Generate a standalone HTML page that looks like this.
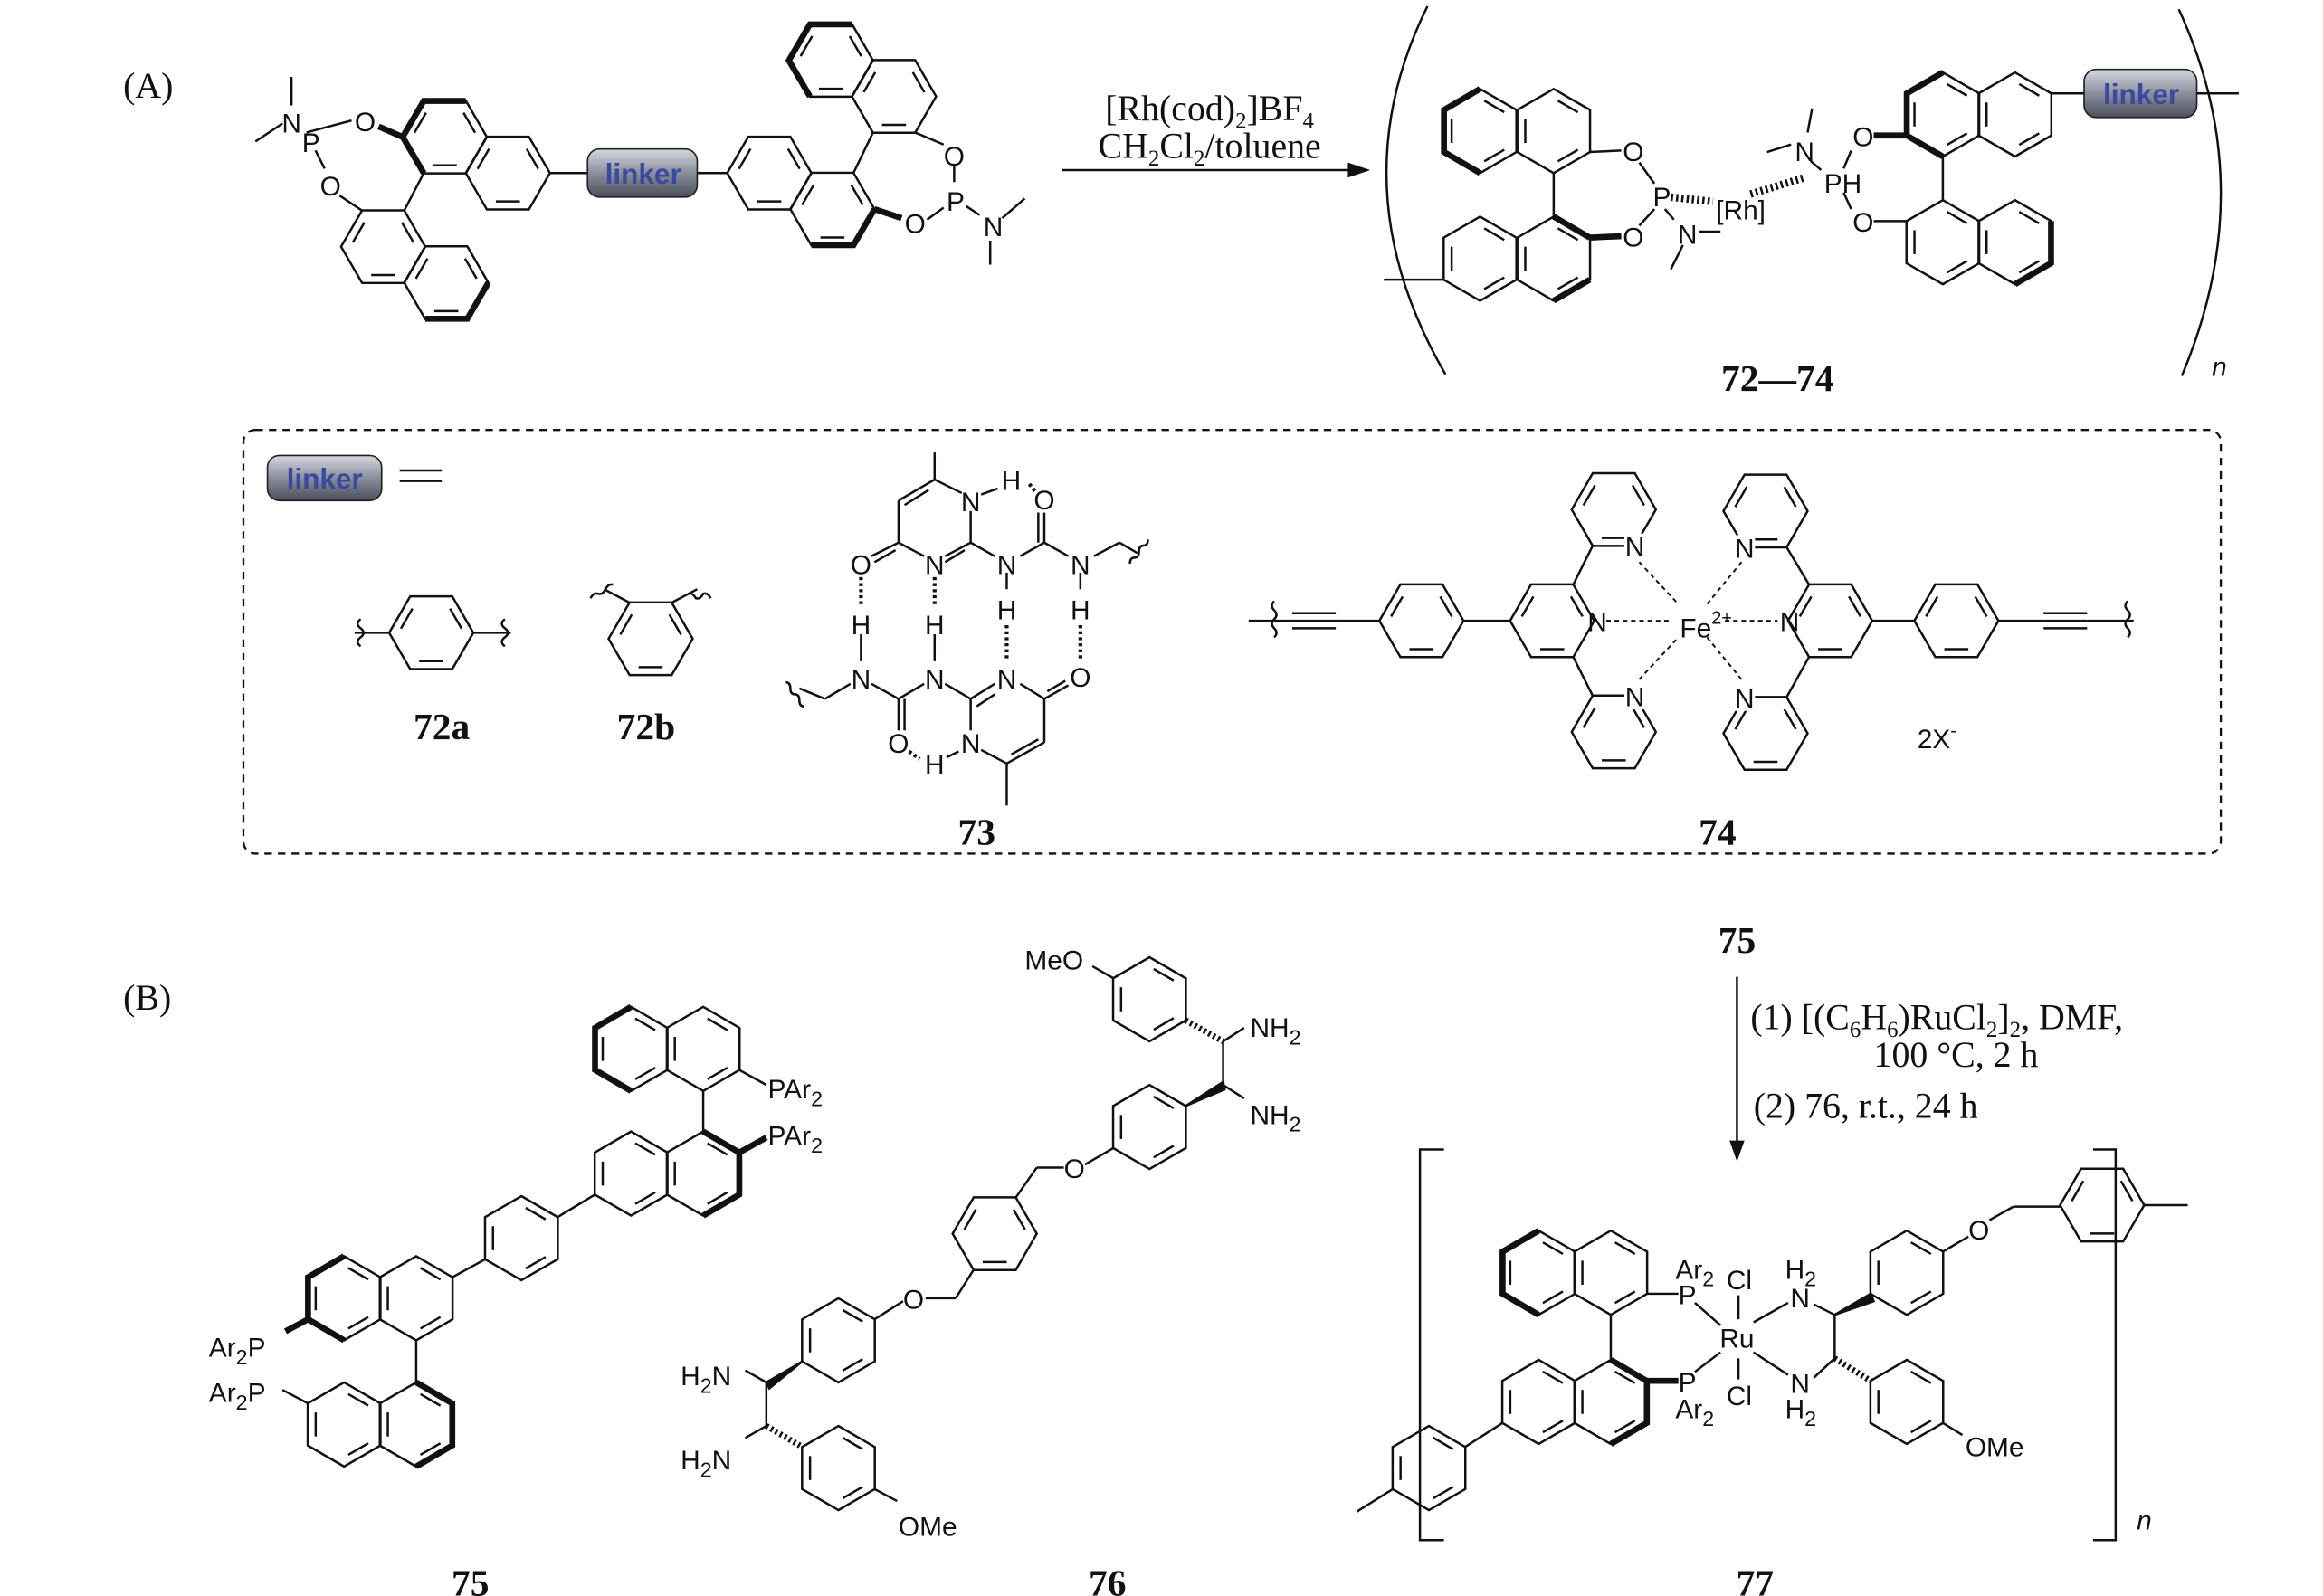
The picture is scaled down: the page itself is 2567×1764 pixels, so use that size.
<!DOCTYPE html>
<html><head><meta charset="utf-8"><style>
html,body{margin:0;padding:0;background:#fff}
svg{display:block}
text{font-family:"Liberation Sans",sans-serif;font-size:18px;fill:#111}
.s{font-family:"Liberation Serif",serif;font-size:24px}
.b{font-family:"Liberation Serif",serif;font-size:25px;font-weight:bold}
.l{font-family:"Liberation Sans",sans-serif;font-size:19px;font-weight:bold;fill:#3a4aa0}
.m{text-anchor:middle}
</style></head><body>
<svg width="2567" height="1764" viewBox="0 0 1546 1062" xmlns="http://www.w3.org/2000/svg">
<defs>
<symbol id="p" overflow="visible"><g fill="none" stroke="#111" stroke-width="1.5"><polygon points="0,-28 24.2,-14 24.2,14 0,28 -24.2,14 -24.2,-14"/><line x1="2.8" y1="-20.2" x2="16.1" y2="-12.5"/><line x1="16.1" y1="12.5" x2="2.8" y2="20.2"/><line x1="-18.9" y1="8" x2="-18.9" y2="-8"/></g></symbol>
<symbol id="f" overflow="visible"><g fill="none" stroke="#111" stroke-width="1.5"><polygon points="28,0 14,24.2 -14,24.2 -28,0 -14,-24.2 14,-24.2"/><line x1="-8" y1="18.9" x2="8" y2="18.9"/><line x1="-20.2" y1="-2.8" x2="-12.5" y2="-16.1"/><line x1="12.5" y1="-16.1" x2="20.2" y2="-2.8"/></g></symbol>
<linearGradient id="g" x1="0" y1="0" x2="0" y2="1"><stop offset="0" stop-color="#d4d7de"/><stop offset="0.5" stop-color="#8a8f9c"/><stop offset="1" stop-color="#4a4f5a"/></linearGradient>
</defs>
<g stroke="#111" stroke-width="1.5" fill="none">
<use href="#f" x="296" y="91"/><use href="#f" x="338" y="115"/>
<use href="#f" x="255" y="164"/><use href="#f" x="297" y="188"/>
<polyline points="282,115 268,91 282,67 310,67" stroke-width="4"/>
<polyline points="325,188 311,212 283,212" stroke-width="4"/>
<line x1="282" y1="115" x2="269" y2="140"/>
<line x1="268" y1="91" x2="252" y2="84" stroke-width="4"/>
<line x1="241" y1="140" x2="226" y2="130"/>
<line x1="366" y1="115" x2="392" y2="115"/>
<line x1="204" y1="88" x2="234" y2="80"/><line x1="210" y1="100" x2="216" y2="112"/>
<line x1="194" y1="70" x2="194" y2="51"/><line x1="188" y1="82" x2="170" y2="94"/>
<use href="#f" x="512" y="115"/><use href="#f" x="554" y="139"/>
<use href="#f" x="553" y="40"/><use href="#f" x="595" y="64"/>
<line x1="464" y1="115" x2="484" y2="115"/>
<line x1="581" y1="88" x2="568" y2="115"/>
<polyline points="539,64 525,40 539,16 567,16" stroke-width="4"/>
<polyline points="582,139 568,163 540,163" stroke-width="4"/>
<line x1="582" y1="139" x2="600" y2="145" stroke-width="4"/>
<line x1="609" y1="88" x2="628" y2="96"/>
<line x1="617" y1="146" x2="628" y2="138"/><line x1="635" y1="110" x2="635" y2="121"/>
<line x1="643" y1="137" x2="652" y2="143"/><line x1="667" y1="145" x2="682" y2="132"/><line x1="659" y1="160" x2="659" y2="176"/>
<line x1="707" y1="113" x2="905" y2="113"/>
<path d="M950,4 Q890,125 962,249"/><path d="M1450,6 Q1505,125 1452,250"/>
<use href="#p" x="985" y="87"/><use href="#p" x="1034" y="87"/>
<use href="#p" x="985" y="172"/><use href="#p" x="1034" y="172"/>
<polyline points="985,59 961,73 961,101 985,115" stroke-width="4"/>
<polyline points="1034,144 1058,158" stroke-width="4"/><polyline points="1058,186 1034,200" stroke-width="4"/>
<line x1="1034" y1="115" x2="1034" y2="144"/>
<line x1="921" y1="186" x2="961" y2="186"/>
<line x1="1058" y1="101" x2="1079" y2="100"/>
<line x1="1058" y1="158" x2="1079" y2="157" stroke-width="4"/>
<line x1="1091" y1="108" x2="1101" y2="122"/><line x1="1091" y1="150" x2="1101" y2="139"/>
<line x1="1112" y1="131" x2="1140" y2="134" stroke-dasharray="1.5 2" stroke-width="5"/>
<line x1="1165" y1="129" x2="1201" y2="118" stroke-dasharray="1.5 2" stroke-width="5"/>
<line x1="1108" y1="139" x2="1114" y2="146"/><line x1="1131" y1="154" x2="1145" y2="154"/><line x1="1120" y1="163" x2="1112" y2="179"/>
<line x1="1205" y1="107" x2="1212" y2="113"/><line x1="1192" y1="96" x2="1176" y2="101"/><line x1="1203" y1="88" x2="1206" y2="72"/>
<line x1="1227" y1="112" x2="1232" y2="100"/><line x1="1227" y1="128" x2="1232" y2="139"/>
<use href="#p" x="1293" y="76"/><use href="#p" x="1341" y="76"/>
<use href="#p" x="1293" y="161"/><use href="#p" x="1341" y="161"/>
<polyline points="1293,48 1269,62 1269,90 1293,104" stroke-width="4"/>
<polyline points="1365,147 1365,175 1341,189" stroke-width="4"/>
<line x1="1293" y1="104" x2="1293" y2="133"/>
<line x1="1269" y1="90" x2="1247" y2="90" stroke-width="4"/>
<line x1="1269" y1="147" x2="1247" y2="147"/>
<line x1="1365" y1="62" x2="1388" y2="62"/><line x1="1460" y1="62" x2="1490" y2="62"/>
<rect x="162" y="286" width="1316" height="282" rx="8" stroke-dasharray="5 4" stroke-width="1.4"/>
<line x1="266" y1="313" x2="294" y2="313"/><line x1="266" y1="320" x2="294" y2="320"/>
<use href="#f" x="287" y="421"/><line x1="236" y1="421" x2="259" y2="421"/><line x1="315" y1="421" x2="340" y2="421"/>
<path d="M240,412 q-4,3 0,6 q4,3 0,6 q-4,3 0,6"/><path d="M336,412 q-4,3 0,6 q4,3 0,6 q-4,3 0,6"/>
<use href="#f" x="433" y="425"/><line x1="419" y1="401" x2="402" y2="392"/><line x1="447" y1="401" x2="464" y2="392"/>
<path d="M393,398 q2,-4 5,-3 q3,1 5,-3 q2,-4 5,-3"/><path d="M458,395 q3,-1 5,3 q3,1 5,-3 q3,-1 5,3"/>
<line x1="622" y1="319" x2="622" y2="301"/>
<line x1="622" y1="319" x2="640" y2="328"/><line x1="622" y1="319" x2="598" y2="333"/><line x1="618" y1="326" x2="602" y2="336"/>
<line x1="598" y1="333" x2="598" y2="361"/><line x1="598" y1="361" x2="615" y2="370"/><line x1="598" y1="361" x2="580" y2="370"/><line x1="596" y1="366" x2="582" y2="374"/>
<line x1="646" y1="340" x2="646" y2="361"/><line x1="646" y1="361" x2="629" y2="370"/><line x1="642" y1="366" x2="629" y2="374"/>
<line x1="646" y1="361" x2="662" y2="370"/><line x1="653" y1="329" x2="664" y2="325"/>
<line x1="679" y1="370" x2="695" y2="361"/><line x1="695" y1="361" x2="711" y2="370"/><line x1="695" y1="361" x2="695" y2="341"/><line x1="691" y1="361" x2="691" y2="341"/>
<line x1="728" y1="370" x2="745" y2="361"/><line x1="745" y1="361" x2="757" y2="368"/>
<path d="M752,375 q0,-4 3,-4 q3,0 3,-4 q0,-4 3,-4 q3,0 3,-4"/>
<line x1="670" y1="381" x2="670" y2="392"/><line x1="719" y1="381" x2="719" y2="392"/>
<line x1="573" y1="422" x2="573" y2="440"/><line x1="622" y1="422" x2="622" y2="440"/>
<line x1="549" y1="465" x2="566" y2="455"/><line x1="532" y1="458" x2="549" y2="465"/>
<path d="M535,470 q-3,0 -3,-4 q0,-4 -3,-4 q-3,0 -3,-4 q0,-4 -3,-4"/>
<line x1="580" y1="455" x2="598" y2="465"/><line x1="598" y1="465" x2="615" y2="455"/><line x1="598" y1="465" x2="598" y2="486"/><line x1="602" y1="465" x2="602" y2="486"/>
<line x1="629" y1="455" x2="646" y2="465"/><line x1="646" y1="465" x2="662" y2="455"/><line x1="650" y1="470" x2="662" y2="462"/>
<line x1="646" y1="465" x2="646" y2="486"/><line x1="653" y1="499" x2="670" y2="508"/><line x1="670" y1="508" x2="695" y2="494"/><line x1="673" y1="502" x2="691" y2="492"/>
<line x1="695" y1="494" x2="695" y2="465"/><line x1="695" y1="465" x2="679" y2="455"/><line x1="695" y1="465" x2="711" y2="456"/><line x1="697" y1="460" x2="709" y2="453"/>
<line x1="670" y1="508" x2="670" y2="536"/><line x1="630" y1="504" x2="638" y2="500"/>
<g stroke-dasharray="2 2" stroke-width="2.5"><line x1="573" y1="384" x2="573" y2="402"/><line x1="622" y1="384" x2="622" y2="402"/><line x1="670" y1="416" x2="670" y2="438"/><line x1="719" y1="416" x2="719" y2="438"/><line x1="605" y1="500" x2="612" y2="505"/><line x1="685" y1="322" x2="690" y2="328"/></g>
<use href="#f" x="946" y="413"/><use href="#f" x="1033" y="413"/><use href="#f" x="1074" y="339"/><use href="#f" x="1074" y="487"/>
<use href="#f" x="1218" y="413"/><use href="#f" x="1302" y="413"/><use href="#f" x="1175" y="340"/><use href="#f" x="1175" y="488"/>
<line x1="831" y1="413" x2="860" y2="413"/><line x1="860" y1="408" x2="889" y2="408"/><line x1="860" y1="413" x2="889" y2="413"/><line x1="860" y1="418" x2="889" y2="418"/><line x1="889" y1="413" x2="918" y2="413"/>
<line x1="974" y1="413" x2="1005" y2="413"/><line x1="1047" y1="389" x2="1060" y2="363"/><line x1="1047" y1="437" x2="1060" y2="463"/>
<line x1="1204" y1="389" x2="1189" y2="364"/><line x1="1204" y1="437" x2="1189" y2="464"/><line x1="1246" y1="413" x2="1274" y2="413"/>
<line x1="1330" y1="413" x2="1360" y2="413"/><line x1="1360" y1="408" x2="1389" y2="408"/><line x1="1360" y1="413" x2="1389" y2="413"/><line x1="1360" y1="418" x2="1389" y2="418"/><line x1="1389" y1="413" x2="1420" y2="413"/>
<path d="M848,400 q-3,3 0,6 q3,3 0,6 q-3,3 0,6 q3,3 0,6"/><path d="M1416,400 q-3,3 0,6 q3,3 0,6 q-3,3 0,6 q3,3 0,6"/>
<g stroke-dasharray="3 2.5" stroke-width="1.2"><line x1="1069" y1="413" x2="1113" y2="413"/><line x1="1148" y1="413" x2="1183" y2="413"/><line x1="1091" y1="374" x2="1117" y2="402"/><line x1="1159" y1="374" x2="1136" y2="402"/><line x1="1091" y1="452" x2="1117" y2="424"/><line x1="1159" y1="452" x2="1136" y2="424"/></g>
<line x1="1156" y1="650" x2="1156" y2="765"/>
<use href="#p" x="420" y="698"/><use href="#p" x="468" y="698"/>
<use href="#p" x="420" y="781"/><use href="#p" x="468" y="781"/>
<polyline points="420,670 396,684 396,712 420,726" stroke-width="4"/>
<polyline points="468,753 492,767 492,795 468,809" stroke-width="4"/>
<line x1="468" y1="726" x2="468" y2="753"/>
<line x1="492" y1="712" x2="510" y2="722"/><line x1="492" y1="767" x2="510" y2="757" stroke-width="4"/>
<use href="#p" x="347" y="824"/>
<line x1="396" y1="795" x2="371" y2="810"/>
<use href="#p" x="229" y="864"/><use href="#p" x="277" y="864"/>
<line x1="323" y1="838" x2="301" y2="850"/>
<polyline points="205,878 205,850 229,836" stroke-width="4"/><polyline points="205,878 229,892" stroke-width="4"/>
<line x1="205" y1="878" x2="190" y2="886" stroke-width="4"/>
<use href="#p" x="229" y="948"/><use href="#p" x="277" y="948"/>
<line x1="277" y1="892" x2="277" y2="920"/>
<polyline points="277,920 301,934 301,962 277,976" stroke-width="4"/>
<line x1="205" y1="934" x2="188" y2="925"/>
<use href="#p" x="765" y="665"/>
<line x1="741" y1="651" x2="727" y2="643"/>
<line x1="814" y1="693" x2="814" y2="722"/><line x1="814" y1="693" x2="828" y2="684"/><line x1="814" y1="722" x2="828" y2="731"/>
<line x1="789" y1="679" x2="814" y2="693" stroke-dasharray="1.5 2" stroke-width="4"/>
<use href="#p" x="765" y="750"/>
<polygon points="789,736 814,720 815,725" fill="#111"/>
<line x1="741" y1="764" x2="722" y2="775"/><line x1="708" y1="777" x2="690" y2="777"/><line x1="690" y1="777" x2="676" y2="797"/>
<use href="#f" x="662" y="821"/>
<line x1="648" y1="845" x2="636" y2="864"/><line x1="636" y1="864" x2="616" y2="864"/>
<use href="#p" x="558" y="892"/>
<line x1="601" y1="866" x2="582" y2="878"/>
<polygon points="534,906 510,920 512,924" fill="#111"/>
<line x1="510" y1="920" x2="510" y2="949"/><line x1="510" y1="920" x2="496" y2="912"/><line x1="510" y1="949" x2="496" y2="957"/>
<use href="#p" x="558" y="977"/>
<line x1="510" y1="949" x2="534" y2="963" stroke-dasharray="1.5 2" stroke-width="4"/>
<line x1="582" y1="991" x2="597" y2="999"/>
<path d="M961,765 H945 V1025 H961"/><path d="M1393,765 H1408 V1025 H1393"/>
<use href="#p" x="1024" y="847"/><use href="#p" x="1072" y="847"/>
<use href="#p" x="1024" y="933"/><use href="#p" x="1072" y="933"/>
<polyline points="1024,819 1000,833 1000,861 1024,875" stroke-width="4"/>
<polyline points="1072,905 1096,919 1096,947 1072,961" stroke-width="4"/>
<line x1="1072" y1="875" x2="1072" y2="905"/>
<line x1="1096" y1="861" x2="1117" y2="861"/><line x1="1096" y1="919" x2="1117" y2="919" stroke-width="4"/>
<use href="#p" x="951" y="977"/>
<line x1="1000" y1="947" x2="975" y2="963"/><line x1="927" y1="991" x2="903" y2="1006"/>
<line x1="1128" y1="867" x2="1145" y2="882"/><line x1="1128" y1="913" x2="1145" y2="900"/>
<line x1="1157" y1="862" x2="1157" y2="878"/><line x1="1157" y1="904" x2="1157" y2="918"/>
<line x1="1167" y1="880" x2="1190" y2="867"/><line x1="1167" y1="900" x2="1190" y2="915"/>
<line x1="1207" y1="868" x2="1221" y2="875"/><line x1="1207" y1="917" x2="1221" y2="904"/><line x1="1221" y1="875" x2="1221" y2="904"/>
<polygon points="1221,875 1245,861 1247,866" fill="#111"/>
<line x1="1221" y1="904" x2="1245" y2="919" stroke-dasharray="1.5 2" stroke-width="4"/>
<use href="#p" x="1269" y="847"/><use href="#p" x="1269" y="933"/>
<line x1="1293" y1="833" x2="1310" y2="823"/><line x1="1324" y1="812" x2="1340" y2="803"/><line x1="1340" y1="803" x2="1371" y2="803"/>
<use href="#f" x="1399" y="802"/><line x1="1427" y1="802" x2="1456" y2="802"/>
<line x1="1293" y1="947" x2="1306" y2="955"/>
</g>
<!-- white masks behind pyridine N -->
<g fill="#fff"><rect x="1081" y="355" width="14" height="17"/><rect x="1154" y="356" width="14" height="17"/><rect x="1081" y="455" width="14" height="17"/><rect x="1154" y="456" width="14" height="17"/></g>
<polygon points="912,113 897,108 897,118" fill="#111"/>
<polygon points="1156,773 1151,759 1161,759" fill="#111"/>
<rect x="391" y="99" width="73" height="32" rx="8" fill="url(#g)" stroke="#222"/><text class="l m" x="428" y="122">linker</text>
<rect x="1387" y="46" width="75" height="32" rx="8" fill="url(#g)" stroke="#222"/><text class="l m" x="1425" y="69">linker</text>
<rect x="178" y="303" width="76" height="30" rx="8" fill="url(#g)" stroke="#222"/><text class="l m" x="216" y="325">linker</text>
<text class="s" x="82" y="65">(A)</text><text class="s" x="82" y="672">(B)</text>
<text class="m" x="194" y="88">N</text><text class="m" x="243" y="87">O</text><text class="m" x="207" y="101">P</text><text class="m" x="220" y="130">O</text>
<text class="m" x="609" y="155">O</text><text class="m" x="635" y="110">O</text><text class="m" x="636" y="140">P</text><text class="m" x="661" y="157">N</text>
<text class="s m" x="805" y="80">[Rh(cod)<tspan font-size="15" dy="5">2</tspan><tspan dy="-5">]BF</tspan><tspan font-size="15" dy="5">4</tspan></text>
<text class="s m" x="805" y="105">CH<tspan font-size="15" dy="5">2</tspan><tspan dy="-5">Cl</tspan><tspan font-size="15" dy="5">2</tspan><tspan dy="-5">/toluene</tspan></text>
<text class="m" x="1087" y="107">O</text><text class="m" x="1087" y="164">O</text><text class="m" x="1106" y="137">P</text><text class="m" x="1123" y="162">N</text>
<text x="1142" y="146">[Rh]</text><text class="m" x="1201" y="107">N</text><text x="1214" y="128">PH</text><text class="m" x="1240" y="97">O</text><text class="m" x="1240" y="154">O</text>
<text class="b m" x="1183" y="260">72—74</text>
<text x="1472" y="250" font-style="italic">n</text>
<text class="b m" x="294" y="492">72a</text><text class="b m" x="430" y="492">72b</text>
<text class="b m" x="650" y="562">73</text><text class="b m" x="1143" y="562">74</text>
<text class="m" x="646" y="340">N</text><text class="m" x="673" y="326">H</text><text class="m" x="695" y="339">O</text>
<text class="m" x="573" y="382">O</text><text class="m" x="622" y="382">N</text><text class="m" x="670" y="382">N</text><text class="m" x="719" y="382">N</text>
<text class="m" x="573" y="422">H</text><text class="m" x="622" y="422">H</text><text class="m" x="670" y="412">H</text><text class="m" x="719" y="412">H</text>
<text class="m" x="573" y="458">N</text><text class="m" x="622" y="458">N</text><text class="m" x="670" y="458">N</text><text class="m" x="719" y="457">O</text>
<text class="m" x="598" y="501">O</text><text class="m" x="622" y="515">H</text><text class="m" x="646" y="501">N</text>
<text class="m" x="1063" y="420">N</text><text class="m" x="1191" y="420">N</text><text x="1118" y="424">Fe<tspan font-size="12" dy="-9">2+</tspan></text>
<text class="m" x="1088" y="370">N</text><text class="m" x="1161" y="371">N</text><text class="m" x="1088" y="470">N</text><text class="m" x="1161" y="471">N</text>
<text x="1276" y="498">2X<tspan font-size="12" dy="-8">-</tspan></text>
<text class="b m" x="1156" y="634">75</text>
<text class="s" x="1165" y="685">(1) [(C<tspan font-size="15" dy="5">6</tspan><tspan dy="-5">H</tspan><tspan font-size="15" dy="5">6</tspan><tspan dy="-5">)RuCl</tspan><tspan font-size="15" dy="5">2</tspan><tspan dy="-5">]</tspan><tspan font-size="15" dy="5">2</tspan><tspan dy="-5">, DMF,</tspan></text>
<text class="s" x="1247" y="710">100 °C, 2 h</text>
<text class="s" x="1167" y="744">(2) 76, r.t., 24 h</text>
<text x="511" y="731">PAr<tspan font-size="14" dy="5">2</tspan></text><text x="511" y="762">PAr<tspan font-size="14" dy="5">2</tspan></text>
<text x="139" y="903">Ar<tspan font-size="14" dy="5">2</tspan><tspan dy="-5">P</tspan></text><text x="139" y="933">Ar<tspan font-size="14" dy="5">2</tspan><tspan dy="-5">P</tspan></text>
<text x="682" y="645">MeO</text><text x="832" y="690">NH<tspan font-size="14" dy="5">2</tspan></text><text x="832" y="748">NH<tspan font-size="14" dy="5">2</tspan></text>
<text class="m" x="715" y="784">O</text><text class="m" x="608" y="871">O</text>
<text x="453" y="922">H<tspan font-size="14" dy="5">2</tspan><tspan dy="-5">N</tspan></text><text x="453" y="978">H<tspan font-size="14" dy="5">2</tspan><tspan dy="-5">N</tspan></text>
<text x="598" y="1022">OMe</text>
<text class="b m" x="313" y="1062">75</text><text class="b m" x="737" y="1062">76</text><text class="b m" x="1168" y="1062">77</text>
<text x="1115" y="851">Ar<tspan font-size="14" dy="5">2</tspan></text><text class="m" x="1123" y="868">P</text><text x="1149" y="858">Cl</text>
<text class="m" x="1156" y="897">Ru</text><text class="m" x="1123" y="926">P</text><text x="1115" y="944">Ar<tspan font-size="14" dy="5">2</tspan></text><text x="1149" y="935">Cl</text>
<text x="1188" y="851">H<tspan font-size="14" dy="5">2</tspan></text><text class="m" x="1198" y="870">N</text><text class="m" x="1198" y="927">N</text><text x="1188" y="944">H<tspan font-size="14" dy="5">2</tspan></text>
<text class="m" x="1317" y="825">O</text><text x="1308" y="969">OMe</text>
<text x="1422" y="1018" font-style="italic">n</text>
</svg>
</body></html>
